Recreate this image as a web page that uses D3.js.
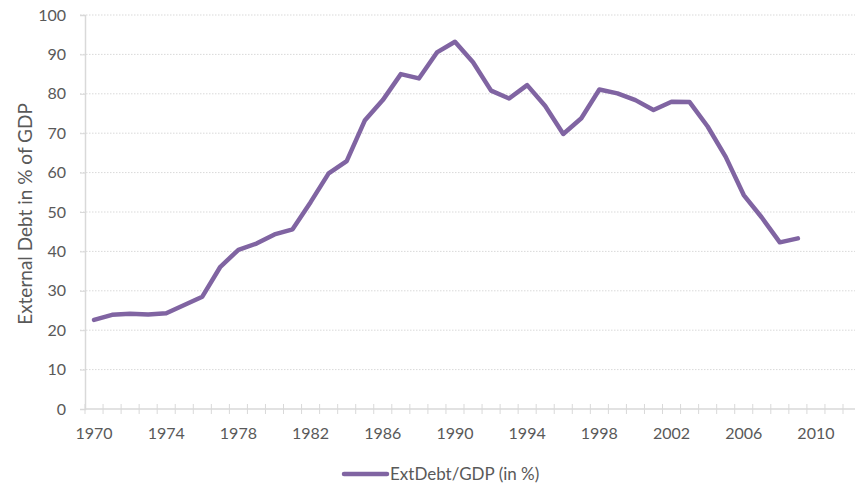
<!DOCTYPE html>
<html>
<head>
<meta charset="utf-8">
<script src="https://cdn.jsdelivr.net/npm/d3@7"></script>
<style>
  body { margin: 0; background: #fff; }
  svg text { font-family: Lato, "Open Sans", sans-serif; fill: #595959; }
</style>
</head>
<body>
<svg id="chart" width="857" height="487"></svg>
<script>
const years = d3.range(1970, 2012);
const debtYears = d3.range(1970, 2010);
const debtValues = [
  22.6, 23.9, 24.2, 24.0, 24.3, 26.4, 28.5, 36.1, 40.4, 42.0,
  44.3, 45.6, 52.5, 59.8, 62.9, 73.2, 78.4, 85.0, 83.9, 90.5,
  93.2, 88.0, 80.8, 78.8, 82.2, 76.9, 69.8, 73.8, 81.1, 80.1,
  78.4, 75.9, 78.0, 77.9, 71.7, 64.0, 54.3, 48.6, 42.3, 43.3
];
const yTicks = d3.range(0, 101, 10);
const xLabels = d3.range(1970, 2011, 4);
const seriesName = 'ExtDebt/GDP (in %)';

const svg = d3.select('#chart');
const plotLeft = 85, plotRight = 843, plotTop = 15, plotBottom = 409;

const x = d3.scaleBand().domain(years).range([plotLeft, plotRight]);
const y = d3.scaleLinear().domain([0, 100]).range([plotBottom, plotTop]);

// gridlines
svg.append('g')
  .selectAll('line')
  .data(yTicks.filter(d => d > 0))
  .join('line')
  .attr('x1', plotLeft - 5)
  .attr('x2', 855)
  .attr('y1', d => y(d))
  .attr('y2', d => y(d))
  .attr('stroke', '#d9d9d9')
  .attr('stroke-width', 1)
  .attr('stroke-dasharray', '1.5,1.5');

// y axis
const yAxis = svg.append('g')
  .attr('transform', `translate(${plotLeft},0)`)
  .call(d3.axisLeft(y).tickValues(yTicks).tickSize(5).tickPadding(14));
yAxis.select('.domain').attr('stroke', '#d9d9d9').attr('stroke-width', 1.5);
yAxis.selectAll('.tick line').attr('stroke', '#d9d9d9');
yAxis.selectAll('text').attr('font-size', 16).style('font-family', 'Lato, sans-serif').attr('fill', '#595959');

// x axis: ticks between categories, labels every 4 years
const xg = svg.append('g').attr('transform', `translate(0,${plotBottom})`);
xg.append('line')
  .attr('x1', plotLeft).attr('x2', 855)
  .attr('stroke', '#d9d9d9').attr('stroke-width', 1.5);
xg.selectAll('line.tk')
  .data(years.concat([2012]))
  .join('line')
  .attr('class', 'tk')
  .attr('x1', d => d === 2012 ? plotRight : x(d))
  .attr('x2', d => d === 2012 ? plotRight : x(d))
  .attr('y1', -5).attr('y2', 5)
  .attr('stroke', '#d9d9d9');
xg.selectAll('text')
  .data(xLabels)
  .join('text')
  .attr('x', d => x(d) + x.bandwidth() / 2)
  .attr('y', 30)
  .attr('text-anchor', 'middle')
  .attr('font-size', 16)
  .text(d => d);

// y label
svg.append('text')
  .attr('transform', 'translate(32,214) rotate(-90)')
  .attr('text-anchor', 'middle')
  .attr('font-size', 19)
  .text('External Debt in % of GDP');

// line
const line = d3.line()
  .x((d, i) => x(debtYears[i]) + x.bandwidth() / 2)
  .y(d => y(d));
svg.append('path')
  .datum(debtValues)
  .attr('d', line)
  .attr('fill', 'none')
  .attr('stroke', '#8064a2')
  .attr('stroke-width', 4.5)
  .attr('stroke-linejoin', 'round')
  .attr('stroke-linecap', 'round');

// legend
const lg = svg.append('g').attr('transform', 'translate(344,474)');
lg.append('line')
  .attr('x1', 0).attr('x2', 43)
  .attr('stroke', '#8064a2').attr('stroke-width', 4.5).attr('stroke-linecap', 'round');
lg.append('text')
  .attr('x', 46).attr('y', 6)
  .attr('font-size', 17)
  .text(seriesName);
</script>
</body>
</html>
